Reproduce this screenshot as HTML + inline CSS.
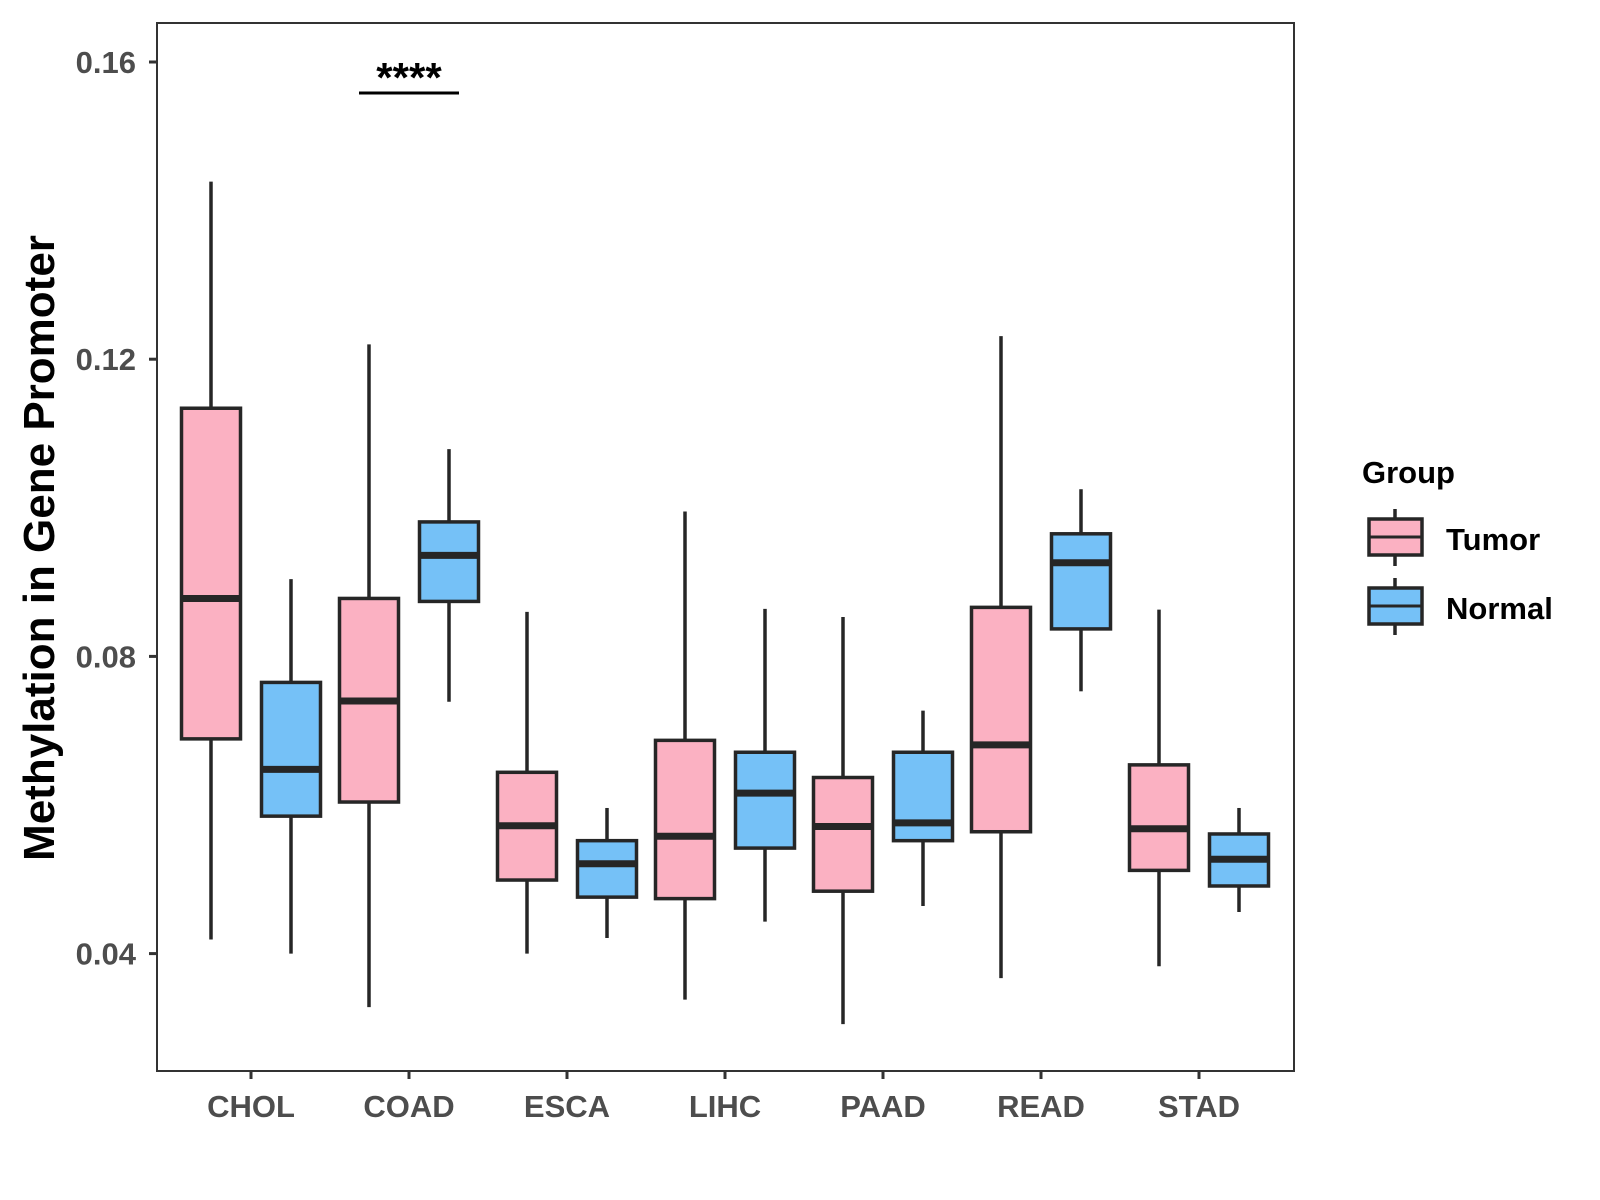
<!DOCTYPE html>
<html><head><meta charset="utf-8"><style>
html,body{margin:0;padding:0;background:#fff;}
svg{display:block;font-family:"Liberation Sans",Arial,sans-serif;}
</style></head><body>
<svg id="chart" width="1600" height="1200" viewBox="0 0 1600 1200">
<rect x="0" y="0" width="1600" height="1200" fill="#fff"/>
<g id="plot"></g>
<rect x="157" y="23" width="1137" height="1048" fill="none" stroke="#333" stroke-width="2"/>
<g id="axes"></g>
<text transform="translate(54,548) rotate(-90)" text-anchor="middle" font-size="44" font-weight="bold" fill="#000">Methylation in Gene Promoter</text>
<g>
<line x1="359" y1="93" x2="459" y2="93" stroke="#000" stroke-width="3"/>
<text x="409" y="92" text-anchor="middle" font-size="42" font-weight="bold" fill="#000">****</text>
</g>
<g>
<text x="1362" y="483" font-size="31" font-weight="bold" fill="#000">Group</text>
<g>
<line x1="1395" y1="509" x2="1395" y2="566" stroke="#262626" stroke-width="3.5"/>
<rect x="1369" y="519" width="53" height="36" fill="#FBB1C2" stroke="#262626" stroke-width="3.5"/>
<line x1="1369" y1="537" x2="1422" y2="537" stroke="#262626" stroke-width="3"/>
<text x="1446" y="550" font-size="31" font-weight="bold" fill="#000">Tumor</text>
</g>
<g>
<line x1="1395" y1="578" x2="1395" y2="635" stroke="#262626" stroke-width="3.5"/>
<rect x="1369" y="588" width="53" height="36" fill="#75C1F7" stroke="#262626" stroke-width="3.5"/>
<line x1="1369" y1="606" x2="1422" y2="606" stroke="#262626" stroke-width="3"/>
<text x="1446" y="619" font-size="31" font-weight="bold" fill="#000">Normal</text>
</g>
</g>
</svg>
<script>
const categories = ["CHOL","COAD","ESCA","LIHC","PAAD","READ","STAD"];
const yTicks = [0.04, 0.08, 0.12, 0.16];
const yTickLabels = ["0.04","0.08","0.12","0.16"];
const tumorMin    = [0.0419,0.0328,0.0400,0.0338,0.0305,0.0367,0.0383];
const tumorQ1     = [0.0689,0.0604,0.0499,0.0474,0.0484,0.0564,0.0512];
const tumorMedian = [0.0878,0.0740,0.0572,0.0558,0.0571,0.0681,0.0568];
const tumorQ3     = [0.1134,0.0878,0.0644,0.0687,0.0637,0.0866,0.0654];
const tumorMax    = [0.1439,0.1220,0.0860,0.0995,0.0853,0.1231,0.0863];
const normalMin    = [0.0400,0.0739,0.0421,0.0443,0.0464,0.0753,0.0456];
const normalQ1     = [0.0585,0.0874,0.0476,0.0542,0.0552,0.0837,0.0491];
const normalMedian = [0.0648,0.0936,0.0521,0.0616,0.0576,0.0926,0.0527];
const normalQ3     = [0.0765,0.0981,0.0552,0.0671,0.0671,0.0965,0.0561];
const normalMax    = [0.0904,0.1079,0.0596,0.0864,0.0727,0.1025,0.0596];

const NS='http://www.w3.org/2000/svg';
function yScale(v){ return 62 + (0.16 - v) / 0.04 * 297.2; }
function xScale(i){ return 251 + 158 * i; }
function mk(tag, attrs, parent){
  const e=document.createElementNS(NS,tag);
  for(const k in attrs) e.setAttribute(k, attrs[k]);
  parent.appendChild(e); return e;
}
const plot=document.getElementById('plot');
const axes=document.getElementById('axes');
const groups=[
  {key:'tumor', off:-40, fill:'#FBB1C2', mn:tumorMin, q1:tumorQ1, md:tumorMedian, q3:tumorQ3, mx:tumorMax},
  {key:'normal', off:40, fill:'#75C1F7', mn:normalMin, q1:normalQ1, md:normalMedian, q3:normalQ3, mx:normalMax}
];
const bw=59;
categories.forEach((c,i)=>{
  groups.forEach(g=>{
    const cx=xScale(i)+g.off;
    const gEl=mk('g',{},plot);
    
    
    const w1=mk('line',{x1:cx,x2:cx,y1:yScale(g.mx[i]),y2:yScale(g.q3[i]),stroke:'#262626','stroke-width':3.5},gEl);
    
    
    const w2=mk('line',{x1:cx,x2:cx,y1:yScale(g.q1[i]),y2:yScale(g.mn[i]),stroke:'#262626','stroke-width':3.5},gEl);
    
    
    const r=mk('rect',{x:cx-bw/2,y:yScale(g.q3[i]),width:bw,height:yScale(g.q1[i])-yScale(g.q3[i]),fill:g.fill,stroke:'#262626','stroke-width':3.5},gEl);
    
    
    const m=mk('line',{x1:cx-bw/2,x2:cx+bw/2,y1:yScale(g.md[i]),y2:yScale(g.md[i]),stroke:'#262626','stroke-width':7},gEl);
    
    
  });
  const t=mk('line',{x1:xScale(i),x2:xScale(i),y1:1071,y2:1079,stroke:'#333','stroke-width':3},axes);
  
  
  const l=mk('text',{x:xScale(i),y:1117,'text-anchor':'middle','font-size':31,'font-weight':'bold',fill:'#4d4d4d'},axes);
  l.textContent=c;
  
  
});
yTicks.forEach((v,i)=>{
  const t=mk('line',{x1:149,x2:157,y1:yScale(v),y2:yScale(v),stroke:'#333','stroke-width':3},axes);
  
  
  const l=mk('text',{x:136,y:yScale(v)+11,'text-anchor':'end','font-size':31,'font-weight':'bold',fill:'#4d4d4d'},axes);
  l.textContent=yTickLabels[i];
  
  
});
</script>
</body></html>
